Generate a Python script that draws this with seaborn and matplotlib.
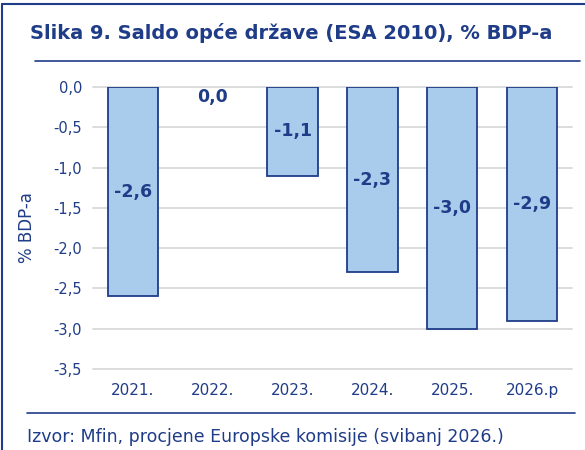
import matplotlib
matplotlib.use("Agg")
import matplotlib.pyplot as plt
import seaborn as sns
import pandas as pd
from matplotlib.lines import Line2D

categories = ["2021.", "2022.", "2023.", "2024.", "2025.", "2026.p"]
values = [-2.6, 0.0, -1.1, -2.3, -3.0, -2.9]
value_labels = ["-2,6", "0,0", "-1,1", "-2,3", "-3,0", "-2,9"]
yticks = [0.0, -0.5, -1.0, -1.5, -2.0, -2.5, -3.0, -3.5]
ytick_labels = ["0,0", "-0,5", "-1,0", "-1,5", "-2,0", "-2,5", "-3,0", "-3,5"]

navy = "#1F3C88"
fill = "#A9CBEC"

sns.set_theme(style="white")
plt.rcParams["font.family"] = ["DejaVu Sans"]

fig = plt.figure(figsize=(5.85, 4.5), dpi=100)
ax = fig.add_axes([93/585, 1-369/450, (572-93)/585, (369-87)/450])

df = pd.DataFrame({"cat": categories, "val": values})
sns.barplot(data=df, x="cat", y="val", ax=ax, color=fill, width=0.63,
            edgecolor=navy, linewidth=1.3, saturation=1)
for p in ax.patches:
    if abs(p.get_height()) < 1e-9:
        p.set_linewidth(0)

ax.set_ylim(-3.5, 0.0)
ax.set_yticks(yticks)
ax.set_yticklabels(ytick_labels)
ax.yaxis.grid(True, color="#D9D9D9", linewidth=1.3)
for gl in ax.get_ygridlines():
    gl.set_clip_on(False)
ax.set_axisbelow(True)
for s in ax.spines.values():
    s.set_visible(False)
ax.tick_params(axis="y", length=0, labelsize=10.5, colors=navy, pad=8)
ax.tick_params(axis="x", length=0, labelsize=11, colors=navy, pad=10)
ax.set_xlabel("")
ax.set_ylabel("% BDP-a", fontsize=12, color=navy, labelpad=12)

for i, (v, lab) in enumerate(zip(values, value_labels)):
    y = v / 2 if v != 0 else -0.12
    ax.text(i, y, lab, ha="center", va="center", fontsize=12.5, fontweight="bold", color=navy)

fig.text(30/585, 1-33/450, "Slika 9. Saldo opće države (ESA 2010), % BDP-a",
         fontsize=14, fontweight="bold", color=navy, va="center", ha="left")
fig.add_artist(Line2D([35/585, 580/585], [1-61/450, 1-61/450], color=navy, linewidth=1.2))
fig.add_artist(Line2D([27/585, 575/585], [1-413/450, 1-413/450], color=navy, linewidth=1.2))
fig.text(27/585, 1-437/450, "Izvor: Mfin, procjene Europske komisije (svibanj 2026.)",
         fontsize=12.5, color=navy, va="center", ha="left")
# outer frame (left and top)
fig.add_artist(Line2D([2/585, 2/585], [0, 1-4/450], color=navy, linewidth=1.5))
fig.add_artist(Line2D([2/585, 1], [1-4/450, 1-4/450], color=navy, linewidth=1.5))

fig.savefig("out.png", dpi=100)
